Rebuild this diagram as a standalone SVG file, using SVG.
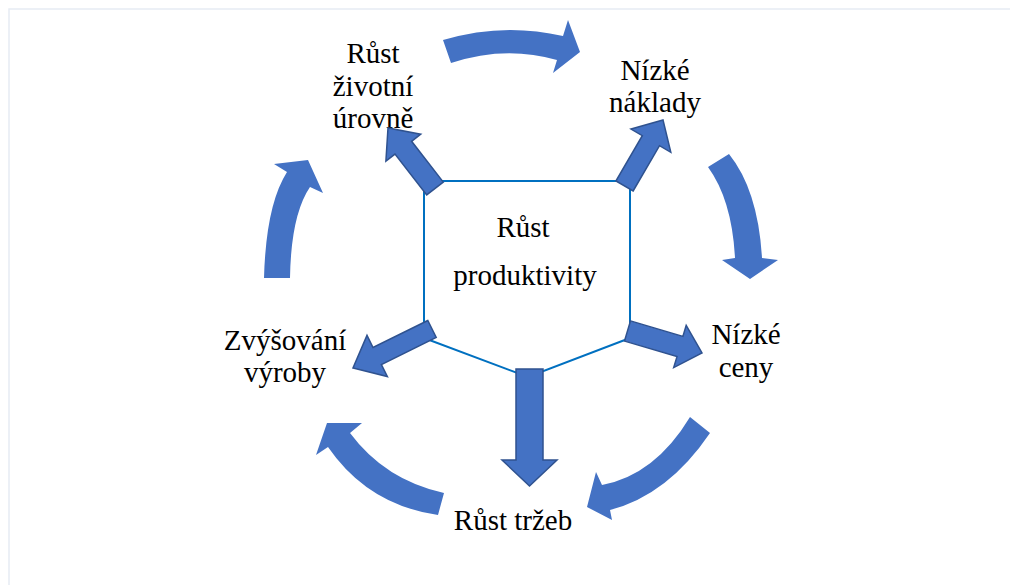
<svg xmlns="http://www.w3.org/2000/svg" width="1010" height="585" viewBox="0 0 1010 585">
  <style>
    .lbl { font-family: "Liberation Serif", "Times New Roman", serif; font-size: 29px; fill: #000; text-anchor: middle; }
    .ring { fill: #4472C4; stroke: none; }
    .block { fill: #4472C4; stroke: #2F528F; stroke-width: 1.5; stroke-linejoin: miter; }
    .hub { fill: #FFFFFF; stroke: #0070C0; stroke-width: 2; }
    .frame { fill: none; stroke: #E6ECF4; stroke-width: 1.5; }
  </style>

  <rect x="0" y="0" width="1010" height="585" fill="#FFFFFF"/>
  <!-- page frame -->
  <path class="frame" d="M9,585 V9 H1010"/>

  <!-- central hub -->
  <g id="hub">
    <polygon class="hub" points="424,181 630,181 630,338 528,377 424,338"/>
    <text class="lbl" x="523" y="237">Růst</text>
    <text class="lbl" x="525" y="285">produktivity</text>
  </g>

  <!-- cycle nodes -->
  <g id="node-zivotni-uroven">
    <text class="lbl" x="373" y="63">Růst</text>
    <text class="lbl" x="373" y="96">životní</text>
    <text class="lbl" x="373" y="128">úrovně</text>
  </g>
  <g id="node-nizke-naklady">
    <text class="lbl" x="655" y="80">Nízké</text>
    <text class="lbl" x="655" y="112">náklady</text>
  </g>
  <g id="node-nizke-ceny">
    <text class="lbl" x="746" y="344">Nízké</text>
    <text class="lbl" x="746" y="377">ceny</text>
  </g>
  <g id="node-rust-trzeb">
    <text class="lbl" x="513" y="530">Růst tržeb</text>
  </g>
  <g id="node-zvysovani-vyroby">
    <text class="lbl" x="285" y="350">Zvýšování</text>
    <text class="lbl" x="285" y="382">výroby</text>
  </g>

  <!-- connectors -->
  <g id="connectors">
    <!-- curved cycle arrows -->
    <path class="ring" d="M443,40 Q503,22 563,36 L568,20 L580,52 L553,73 L557,60 Q505,45 451,63 Z"/>
    <path class="ring" d="M708,167 L729,154 Q758,190 762,258 L778,260 L750,279 L722,260 L735,258 Q732,200 708,167 Z"/>
    <path class="ring" d="M710,433 L690,417 Q655,475 602,485 L596,472 L587,507 L612,520 L610,510 Q668,495 710,433 Z"/>
    <path class="ring" d="M444,493 L438,515 Q368,505 328,447 L316,455 L327,423 L362,423 L350,433 Q385,480 444,493 Z"/>
    <path class="ring" d="M264,278 L290,278 Q291,215 310,187 L323,193 L308,160 L274,164 L287,172 Q266,205 264,278 Z"/>

    <!-- block arrows from the hub -->
    <polygon class="block" points="443.3,182.1 411.6,141.3 420.7,134.2 388,128 385.9,161.2 395.0,154.1 426.7,194.9"/>
    <polygon class="block" points="633.1,191.0 659.5,145.7 670.8,152.3 663,120 631.0,129.1 642.3,135.7 615.9,181.0"/>
    <polygon class="block" points="630.5,320.9 682.9,336.4 686.2,325.4 702,353 673.7,367.6 677.0,356.6 624.5,341.1"/>
    <polygon class="block" points="516,369 543,369 543,460 557,460 529.5,486 502,460 516,460"/>
    <polygon class="block" points="427.8,320.5 373.0,347.5 367.0,335.4 353,368 387.4,376.6 381.4,364.5 436.2,337.5"/>
  </g>
</svg>
